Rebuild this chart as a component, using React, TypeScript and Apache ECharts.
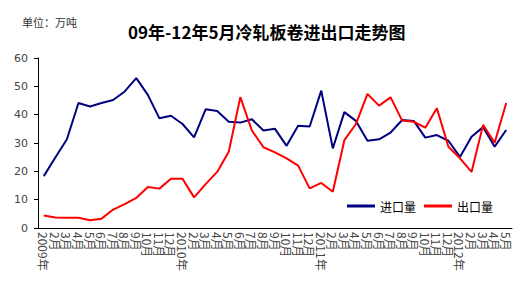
import React, { useEffect, useRef } from 'react';
import * as echarts from 'echarts';

const categories = [
  '2009年', '2月', '3月', '4月', '5月', '6月', '7月', '8月', '9月', '10月', '11月', '12月',
  '2010年', '2月', '3月', '4月', '5月', '6月', '7月', '8月', '9月', '10月', '11月', '12月',
  '2011年', '2月', '3月', '4月', '5月', '6月', '7月', '8月', '9月', '10月', '11月', '12月',
  '2012年', '2月', '3月', '4月', '5月',
];

const importData = [
  18.3, 24.9, 31.3, 44.1, 42.9, 44.1, 45.2, 48.2, 52.9, 47.0, 38.7, 39.6,
  36.7, 32.0, 41.9, 41.3, 37.5, 37.2, 38.4, 34.4, 35.0, 29.0, 36.1, 35.8,
  48.5, 28.1, 40.9, 37.8, 30.8, 31.3, 33.7, 38.1, 37.8, 31.9, 32.8, 30.8,
  25.1, 32.2, 35.6, 28.7, 34.6,
];

const exportData = [
  4.4, 3.7, 3.6, 3.6, 2.7, 3.3, 6.5, 8.4, 10.6, 14.5, 13.9, 17.4,
  17.4, 10.8, 15.5, 19.8, 26.9, 46.2, 34.4, 28.5, 26.7, 24.6, 22.0, 14.0,
  15.9, 12.8, 31.0, 36.7, 47.3, 43.2, 46.1, 37.9, 37.5, 35.4, 42.3, 28.7,
  24.6, 19.8, 36.4, 30.1, 44.1,
];

const seriesNames = ['进口量', '出口量'];
const yTicks = { min: 0, max: 60, interval: 10 };
const titleText = '09年-12年5月冷轧板卷进出口走势图';
const unitText = '单位：万吨';

const FONT = '"Noto Sans CJK SC", "Noto Sans", sans-serif';

export default function App() {
  const ref = useRef<HTMLDivElement>(null);
  useEffect(() => {
    if (!ref.current) return;
    const chart = echarts.init(ref.current, null, { renderer: 'svg' });
    chart.setOption({
      animation: false,
      backgroundColor: '#ffffff',
      textStyle: { fontFamily: FONT },
      title: {
        text: titleText,
        left: 128,
        top: 23,
        padding: 0,
        textStyle: { fontSize: 17, fontWeight: 'bold', color: '#000', fontFamily: FONT },
      },
      graphic: [
        {
          type: 'text',
          left: 22,
          top: 16,
          style: { text: unitText, fontSize: 11, fill: '#333', fontFamily: FONT },
        },
      ],
      legend: {
        data: seriesNames,
        left: 347,
        top: 200,
        padding: 0,
        icon: 'rect',
        itemWidth: 28,
        itemHeight: 3,
        itemGap: 8,
        textStyle: { fontSize: 12, color: '#000', fontFamily: FONT },
      },
      grid: { left: 38, right: 7, top: 58, bottom: 56, outerBoundsMode: 'none' },
      xAxis: {
        type: 'category',
        data: categories,
        boundaryGap: true,
        axisLine: { lineStyle: { color: '#000', width: 1 } },
        axisTick: { inside: true, length: 4, interval: 0, lineStyle: { color: '#000' } },
        axisLabel: {
          interval: 0,
          rotate: -90,
          fontSize: 12,
          color: '#444',
          margin: 4,
          fontFamily: FONT,
        },
        splitLine: { show: false },
      },
      yAxis: {
        type: 'value',
        min: yTicks.min,
        max: yTicks.max,
        interval: yTicks.interval,
        axisLine: { show: true, lineStyle: { color: '#000', width: 1 } },
        axisTick: { show: true, length: 4, lineStyle: { color: '#000' } },
        axisLabel: { fontSize: 11, color: '#444', margin: 10, fontFamily: '"DejaVu Sans", sans-serif' },
        splitLine: { show: false },
      },
      series: [
        {
          name: seriesNames[0],
          type: 'line',
          data: importData,
          showSymbol: false,
          symbol: 'none',
          lineStyle: { color: '#000080', width: 2 },
          itemStyle: { color: '#000080' },
        },
        {
          name: seriesNames[1],
          type: 'line',
          data: exportData,
          showSymbol: false,
          symbol: 'none',
          lineStyle: { color: '#ff0000', width: 2 },
          itemStyle: { color: '#ff0000' },
        },
      ],
    });
    return () => chart.dispose();
  }, []);
  return (
    <div
      ref={ref}
      style={{ position: 'fixed', left: 0, top: 0, width: 519, height: 284, background: '#fff' }}
    />
  );
}
